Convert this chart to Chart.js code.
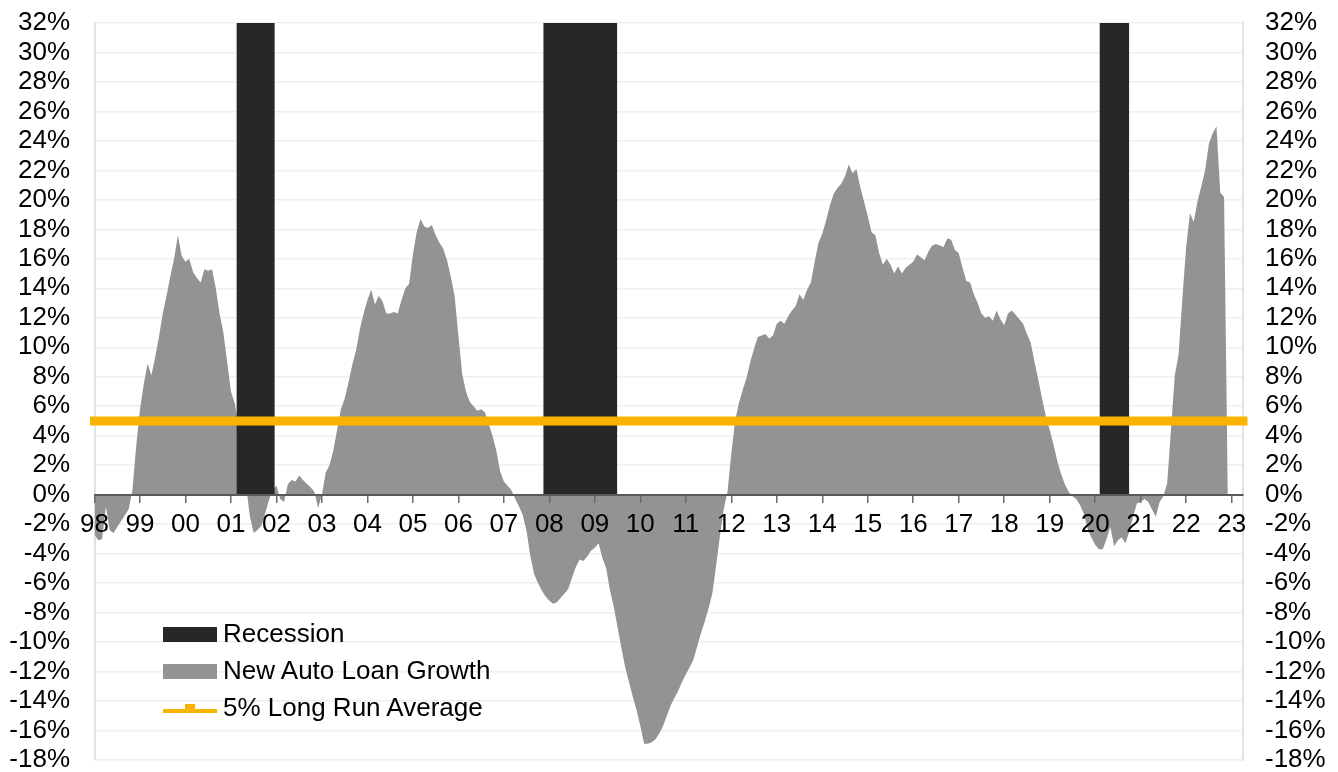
<!DOCTYPE html>
<html>
<head>
<meta charset="utf-8">
<title>New Auto Loan Growth</title>
<script src="https://cdn.jsdelivr.net/npm/chart.js@4.4.1/dist/chart.umd.min.js"></script>
<style>
  html, body { margin: 0; padding: 0; background: #fff; }
  #wrap { position: relative; width: 1338px; height: 772px; }
  #chart { display: block; }
  .legend {
    position: absolute;
    left: 163px;
    top: 615px;
    font-family: "Liberation Sans", Arial, sans-serif;
    font-size: 26px;
    color: #000;
  }
  .legend .row { display: flex; align-items: center; height: 37px; white-space: nowrap; }
  .legend .swatch { position: relative; width: 54px; height: 15px; margin-right: 6px; }
  .legend .box { position: absolute; left: 0; right: 0; top: 1px; bottom: -1px; }
  .legend .line { position: absolute; left: 0; right: 0; top: 9px; height: 4px; background: #fab400; }
  .legend .mark { position: absolute; left: 22px; top: 4px; width: 10px; height: 9px; background: #fab400; }
</style>
</head>
<body>
<div id="wrap">
  <canvas id="chart" width="1338" height="772"></canvas>
  <div class="legend">
    <div class="row"><span class="swatch"><span class="box" style="background:#272727"></span></span>Recession</div>
    <div class="row"><span class="swatch"><span class="box" style="background:#939393"></span></span>New Auto Loan Growth</div>
    <div class="row"><span class="swatch"><span class="line"></span><span class="mark"></span></span>5% Long Run Average</div>
  </div>
</div>
<script>
(() => {
  const startYear = 1998;
  const yearLabels = ["98", "99", "00", "01", "02", "03", "04", "05", "06", "07", "08", "09",
    "10", "11", "12", "13", "14", "15", "16", "17", "18", "19", "20", "21", "22", "23"];

  // monthly y/y growth in new auto loans, %, Jan 1998 .. Dec 2022
  const growth = [
    -2.7, -3.1, -3.0, -0.8, -2.4, -2.6, -2.2, -1.8, -1.4, -1.0, 0.3, 3.3,            // 1998
    5.8, 7.5, 8.9, 8.1, 9.3, 10.7, 12.3, 13.5, 14.8, 16.0, 17.6, 16.2,               // 1999
    15.8, 16.0, 15.1, 14.7, 14.4, 15.3, 15.2, 15.3, 14.0, 12.3, 11.0, 9.0,           // 2000
    7.0, 6.2, 4.8, 2.9, 0.6, -1.5, -2.6, -2.4, -2.1, -1.3, -0.4, 0.3,                // 2001
    0.6, -0.3, -0.5, 0.7, 1.0, 0.9, 1.3, 1.0, 0.75, 0.5, 0.2, -0.9,                  // 2002
    0.0, 1.5, 2.0, 3.0, 4.4, 5.8, 6.5, 7.6, 8.8, 9.8, 11.2, 12.3,                    // 2003
    13.2, 13.9, 12.9, 13.5, 13.1, 12.3, 12.3, 12.4, 12.3, 13.2, 14.0, 14.3,          // 2004
    16.3, 17.8, 18.7, 18.2, 18.1, 18.3, 17.6, 17.1, 16.7, 15.9, 14.8, 13.5,          // 2005
    10.8, 8.2, 7.0, 6.3, 6.0, 5.7, 5.8, 5.6, 4.8, 4.0, 3.0, 1.6,                     // 2006
    0.9, 0.6, 0.3, -0.3, -0.8, -1.4, -2.5, -4.2, -5.4, -6.0, -6.5, -6.9,             // 2007
    -7.2, -7.4, -7.3, -7.0, -6.7, -6.4, -5.6, -4.9, -4.4, -4.5, -4.2, -3.8,          // 2008
    -3.6, -3.3, -4.3, -5.0, -6.5, -7.6, -9.0, -10.4, -11.7, -12.7, -13.7, -14.6,     // 2009
    -15.7, -16.9, -16.9, -16.8, -16.6, -16.2, -15.7, -15.0, -14.3, -13.8, -13.3, -12.7, // 2010
    -12.2, -11.7, -11.2, -10.3, -9.4, -8.6, -7.7, -6.7, -4.8, -2.8, -1.0, 0.2,       // 2011
    2.8, 5.0, 6.2, 7.1, 7.9, 9.0, 9.9, 10.7, 10.8, 10.9, 10.6, 10.8,                 // 2012
    11.6, 11.8, 11.6, 12.1, 12.5, 12.8, 13.6, 13.2, 13.9, 14.4, 15.8, 17.1,          // 2013
    17.7, 18.6, 19.6, 20.4, 20.8, 21.1, 21.6, 22.4, 21.8, 22.1, 20.9, 19.9,          // 2014
    18.9, 17.8, 17.6, 16.4, 15.6, 16.0, 15.6, 15.0, 15.5, 15.0, 15.4, 15.6,          // 2015
    15.8, 16.3, 16.1, 15.9, 16.5, 16.9, 17.0, 16.9, 16.8, 17.4, 17.3, 16.6,          // 2016
    16.4, 15.4, 14.5, 14.4, 13.6, 13.0, 12.3, 12.0, 12.1, 11.8, 12.5, 11.9,          // 2017
    11.5, 12.3, 12.5, 12.2, 11.9, 11.6, 10.9, 10.3, 9.0, 7.8, 6.5, 5.3,              // 2018
    4.4, 3.4, 2.3, 1.4, 0.7, 0.2, -0.1, -0.3, -0.7, -1.3, -2.3, -2.9,                // 2019
    -3.4, -3.7, -3.7, -3.0, -2.2, -3.5, -3.1, -2.9, -3.3, -2.5, -1.5, -0.6,          // 2020
    -0.5, -0.3, -0.5, -1.0, -1.5, -0.5, -0.1, 0.8, 4.4, 8.1, 9.5, 13.3,              // 2021
    16.8, 19.1, 18.5, 19.9, 20.9, 22.0, 23.8, 24.5, 25.0, 20.5, 20.2, 0.0,           // 2022
  ];

  // recession periods as [start, end] in decimal years
  const recessionStart = [2001.12, 2007.87, 2020.10];
  const recessionEnd = [2001.96, 2009.49, 2020.75];
  const recessionTop = 32;

  const longRunAverage = 5;

  const yMin = -18;
  const yMax = 32;
  const xMax = 2023.25;

  const font = '"Liberation Sans", Arial, sans-serif';

  const growthPoints = growth.map((v, i) => ({ x: startYear + i / 12, y: v }));

  const recessionPoints = [];
  recessionStart.forEach((s, i) => {
    const e = recessionEnd[i];
    recessionPoints.push({ x: s, y: 0 }, { x: s, y: recessionTop }, { x: e, y: recessionTop }, { x: e, y: 0 });
  });

  const averagePoints = [
    { x: startYear, y: longRunAverage },
    { x: xMax, y: longRunAverage },
  ];

  // ticks.padding also pads the chart area vertically, so the gap between
  // the labels and the axis comes from an invisible tick mark instead
  const pctTicks = () => ({
    stepSize: 2,
    padding: 0,
    color: "#000",
    font: { family: font, size: 26, lineHeight: 0.9 },
    callback: (v) => v + "%",
  });

  new Chart(document.getElementById("chart").getContext("2d"), {
    type: "line",
    data: {
      datasets: [
        {
          label: "5% Long Run Average",
          data: averagePoints,
          borderColor: "#fab400",
          borderWidth: 9,
          borderCapStyle: "square",
          pointRadius: 0,
          fill: false,
          clip: 6,
          order: 0,
        },
        {
          label: "Recession",
          data: recessionPoints,
          backgroundColor: "#272727",
          borderWidth: 0,
          pointRadius: 0,
          tension: 0,
          fill: "origin",
          order: 1,
        },
        {
          label: "New Auto Loan Growth",
          data: growthPoints,
          backgroundColor: "#939393",
          borderWidth: 0,
          pointRadius: 0,
          tension: 0,
          fill: "origin",
          order: 2,
        },
      ],
    },
    options: {
      responsive: false,
      animation: false,
      events: [],
      layout: { padding: { top: 23, bottom: 12, left: 0, right: 0 } },
      plugins: { legend: { display: false }, tooltip: { enabled: false } },
      scales: {
        x: {
          type: "linear",
          min: startYear,
          max: xMax,
          position: { y: 0 },
          afterBuildTicks: (s) => {
            s.ticks = yearLabels.map((_, i) => ({ value: startYear + i }));
          },
          ticks: {
            z: 1,
            autoSkip: false,
            maxRotation: 0,
            padding: 8,
            color: "#000",
            font: { family: font, size: 26 },
            callback: (v) => yearLabels[Math.round(v) - startYear],
          },
          grid: { z: 1, drawOnChartArea: false, drawTicks: true, tickLength: 7, color: "#6b6b6b", lineWidth: 1.5 },
          border: { z: 1, display: true, color: "#595959", width: 2 },
        },
        y: {
          position: "left",
          min: yMin,
          max: yMax,
          ticks: pctTicks(),
          grid: { color: "#efefef", lineWidth: 1.5, drawTicks: true, tickLength: 24.5, tickColor: "rgba(0,0,0,0)" },
          border: { display: true, color: "#e2e2e2", width: 2 },
          afterFit: (s) => { s.width = 94.5; },
        },
        y2: {
          position: "right",
          min: yMin,
          max: yMax,
          ticks: pctTicks(),
          grid: { drawOnChartArea: false, drawTicks: true, tickLength: 22, tickColor: "rgba(0,0,0,0)" },
          border: { display: true, color: "#e2e2e2", width: 2 },
          afterFit: (s) => { s.width = 95; },
        },
      },
    },
  });
})();
</script>
</body>
</html>
